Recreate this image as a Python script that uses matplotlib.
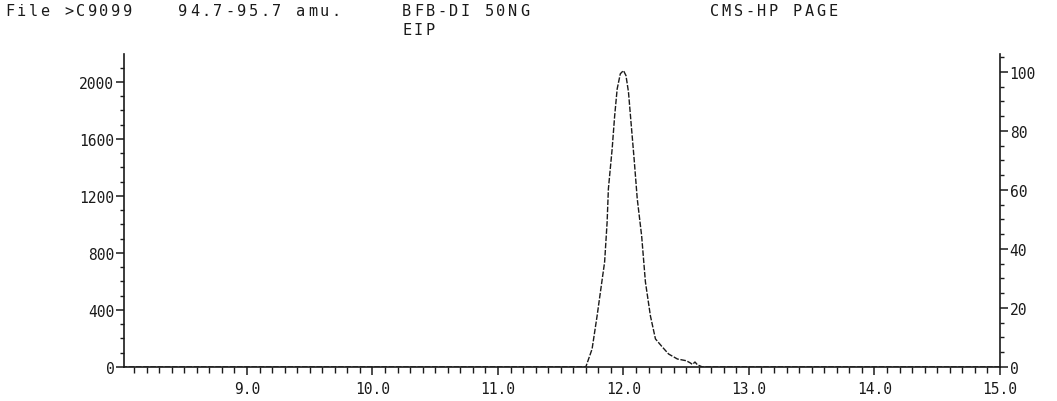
import numpy as np
import matplotlib.pyplot as plt
from matplotlib.ticker import MultipleLocator

# retention time (min) and abundance
rt = [8.0, 11.70, 11.75, 11.79, 11.82, 11.85, 11.87, 11.88, 11.91, 11.93, 11.95,
      11.975, 12.00, 12.02, 12.04, 12.06, 12.085, 12.11, 12.145, 12.175, 12.215,
      12.255, 12.31, 12.36, 12.43, 12.50, 12.53, 12.55, 12.57, 12.59, 12.63, 15.0]
abund = [0, 0, 126, 358, 548, 737, 1018, 1250, 1530, 1762, 1951,
         2057, 2080, 2045, 1930, 1720, 1460, 1180, 920, 597, 358,
         197, 140, 91, 56, 44, 30, 18, 35, 15, 0, 0]

x_major = [9.0, 10.0, 11.0, 12.0, 13.0, 14.0, 15.0]
y_left = [0, 400, 800, 1200, 1600, 2000]
y_right = [0, 20, 40, 60, 80, 100]

header = [('File >C9099', 5, 16), ('94.7-95.7 amu.', 178, 16),
          ('BFB-DI 50NG', 402, 16), ('EIP', 402, 35), ('CMS-HP PAGE', 710, 16)]

ink = '#1a1a1a'
mono = 'DejaVu Sans Mono'
W, H = 1057, 402

fig = plt.figure(figsize=(10.57, 4.02), dpi=100)
ax = fig.add_axes([0.1173, 0.0846, 0.8287, 0.7786])

ax.plot(rt, abund, color=ink, lw=1.0, ls=(0, (4, 1.2)))

ax.set_xlim(8.02, 15.0)
ax.set_ylim(0, 2196)
ax.spines['top'].set_visible(False)
ax.spines['right'].set_visible(False)
for s in ['left', 'bottom']:
    ax.spines[s].set_color(ink)
    ax.spines[s].set_linewidth(1.2)

ax.set_xticks(x_major)
ax.set_xticklabels(['%.1f' % v for v in x_major])
ax.xaxis.set_minor_locator(MultipleLocator(0.1))
ax.set_yticks(y_left)
ax.yaxis.set_minor_locator(MultipleLocator(100))
ax.tick_params(axis='x', which='major', direction='out', length=6, width=1.1,
               colors=ink, labelsize=10.5, pad=4)
ax.tick_params(axis='x', which='minor', direction='out', length=4, width=1.0, colors=ink)
ax.tick_params(axis='y', which='major', direction='out', length=6, width=1.1,
               colors=ink, labelsize=10.5, pad=1)
ax.tick_params(axis='y', which='minor', direction='out', length=3, width=1.0, colors=ink)
for lab in ax.get_xticklabels() + ax.get_yticklabels():
    lab.set_family(mono)

ax2 = ax.twinx()
ax2.set_ylim(0, 106.1)
ax2.set_yticks(y_right)
ax2.yaxis.set_minor_locator(MultipleLocator(5))
for s in ['top', 'left', 'bottom']:
    ax2.spines[s].set_visible(False)
ax2.spines['right'].set_color(ink)
ax2.spines['right'].set_linewidth(1.2)
ax2.tick_params(axis='y', which='major', direction='out', length=6, width=1.1,
                colors=ink, labelsize=10.5, pad=1)
ax2.tick_params(axis='y', which='minor', direction='out', length=3, width=1.0, colors=ink)
for lab in ax2.get_yticklabels():
    lab.set_family(mono)

# header printed above the plot, wide printer pitch
pitch = 11.8
for txt, x0, y0 in header:
    for i, ch in enumerate(txt):
        fig.text((x0 + i * pitch) / W, 1 - y0 / H, ch, family=mono,
                 fontsize=11, color=ink, ha='left', va='baseline')

fig.savefig('out.png', dpi=100, facecolor='white')
